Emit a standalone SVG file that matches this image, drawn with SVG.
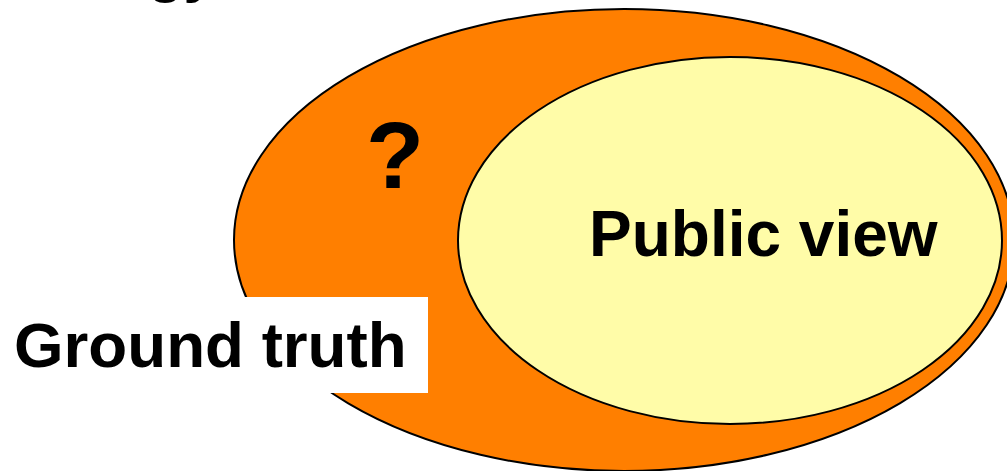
<svg xmlns="http://www.w3.org/2000/svg" width="1007" height="471" viewBox="0 0 1007 471">
<style>
.lbl{font-family:"Liberation Sans",Arial,sans-serif;font-weight:bold;fill:#000}
.shape{stroke:#000;stroke-width:2}
</style>
<rect width="1007" height="471" fill="#fff"/>
<text class="lbl" x="148" y="-9" font-size="58">gy</text>
<g id="ground-truth">
<ellipse class="shape" cx="624" cy="240" rx="390" ry="231" fill="#FF7F00"/>
<rect x="0" y="297" width="428" height="96" fill="#fff"/>
<text class="lbl" x="14" y="367" font-size="63.7">Ground truth</text>
<text class="lbl" x="395" y="188" font-size="95" text-anchor="middle">?</text>
</g>
<g id="public-view">
<ellipse class="shape" cx="730" cy="240.5" rx="272" ry="183.5" fill="#FFFCA8"/>
<text class="lbl" x="589" y="256" font-size="64">Public view</text>
</g>
<g id="connectors"></g>
</svg>
